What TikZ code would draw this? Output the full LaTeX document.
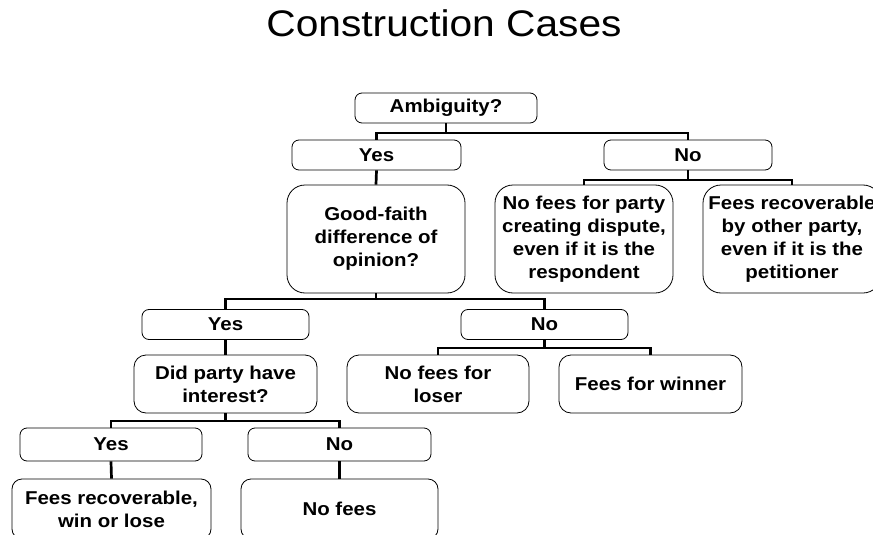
\documentclass[tikz,border=0pt]{standalone}
\usepackage{fontspec}
\setmainfont{Liberation Sans}[FakeStretch=1.1]
\newcommand{\boxfont}{\bfseries\fontsize{18.6}{23}\selectfont}

\begin{document}
\begin{tikzpicture}[x=1pt, y=-1pt]
        \tikzstyle{choice} = [rectangle, draw, fill=white, line width=0.8pt, rounded corners=7pt, align=center, inner sep=0pt, font=\boxfont]
        \tikzstyle{outcome} = [choice, rounded corners=18pt]
        \tikzstyle{question} = [choice, rounded corners=12pt]
        \tikzstyle{link} = [line width=2.7pt]
        \clip (0,0) rectangle (873,535);
        \node[font=\fontsize{37}{44}\selectfont, anchor=base] (title) at (444,37) {Construction Cases};
        % first question
        \node[choice, minimum width=182pt, minimum height=30pt] (amb) at (446,108) {Ambiguity?};
        \node[choice, minimum width=169pt, minimum height=30pt] (yes1) at (376.5,155) {Yes};
        \node[choice, minimum width=168pt, minimum height=30pt] (no1) at (688,155) {No};
        \node[outcome, minimum width=178pt, minimum height=108pt] (faith) at (376,239) {Good-faith\\difference of\\opinion?};
        \node[outcome, minimum width=178pt, minimum height=108pt] (nofees1) at (584,239) {No fees for party\\creating dispute,\\even if it is the\\respondent};
        \node[outcome, minimum width=178pt, minimum height=108pt] (other1) at (792,239) {Fees recoverable\\by other party,\\even if it is the\\petitioner};
        % good-faith question
        \node[choice, minimum width=167pt, minimum height=30pt] (yes2) at (225.5,324.5) {Yes};
        \node[choice, minimum width=167pt, minimum height=30pt] (no2) at (544.5,324.5) {No};
        \node[question, minimum width=183pt, minimum height=58pt] (interest) at (225.5,384) {Did party have\\interest?};
        \node[question, minimum width=182pt, minimum height=58pt] (loser) at (438,384) {No fees for\\loser};
        \node[question, minimum width=183pt, minimum height=58pt] (winner) at (650.5,384) {Fees for winner};
        % interest question
        \node[choice, minimum width=182pt, minimum height=33pt] (yes3) at (111,444.5) {Yes};
        \node[choice, minimum width=183pt, minimum height=33pt] (no3) at (339.5,444.5) {No};
        \node[question, rounded corners=10pt, minimum width=199pt, minimum height=60pt] (always) at (111.5,509) {Fees recoverable,\\win or lose};
        \node[question, rounded corners=10pt, minimum width=197pt, minimum height=60pt] (nofees3) at (339.5,509) {No fees};
        % connectors
        \coordinate (j1) at (446,133);
        \coordinate (j2) at (688,180);
        \coordinate (j3) at (376,299);
        \coordinate (j4) at (544.5,348);
        \coordinate (j5) at (225.5,421);
        \draw[link] (amb.south) -- (j1);
        \draw[link] (j1) -| (yes1.north);
        \draw[link] (j1) -| (no1.north);
        \draw[link] (yes1.south) -- (faith.north);
        \draw[link] (no1.south) -- (j2);
        \draw[link] (j2) -| (nofees1.north);
        \draw[link] (j2) -| (other1.north);
        \draw[link] (faith.south) -- (j3);
        \draw[link] (j3) -| (yes2.north);
        \draw[link] (j3) -| (no2.north);
        \draw[link] (yes2.south) -- (interest.north);
        \draw[link] (no2.south) -- (j4);
        \draw[link] (j4) -| (loser.north);
        \draw[link] (j4) -| (winner.north);
        \draw[link] (interest.south) -- (j5);
        \draw[link] (j5) -| (yes3.north);
        \draw[link] (j5) -| (no3.north);
        \draw[link] (yes3.south) -- (always.north);
        \draw[link] (no3.south) -- (nofees3.north);
    \end{tikzpicture}
\end{document}
